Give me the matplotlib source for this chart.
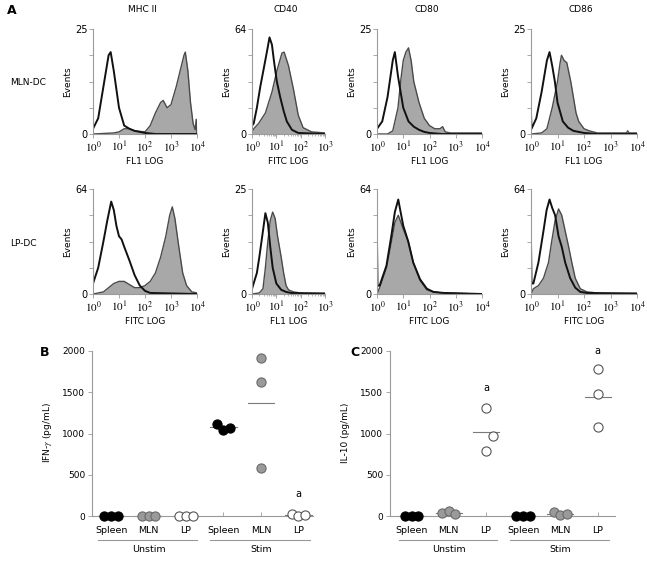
import numpy as np
import matplotlib.pyplot as plt
from matplotlib.ticker import FixedLocator, LogLocator, NullFormatter

plt.rcParams['mathtext.fontset'] = 'stix'
plt.rcParams['font.family'] = 'DejaVu Sans'

# ---- panel A: flow histograms, (log10 intensity, fraction of full scale) ----
mhc_mln_ctrl = [(0, .05), (0.2, .15), (0.4, .45), (0.6, .75), (0.68, .78), (0.8, .6), (1.0, .25),
                (1.2, .08), (1.4, .05), (1.6, .03), (1.8, .02), (2.0, .01), (2.4, 0), (4.0, 0)]
mhc_mln_stain = [(0, 0), (0.8, .01), (1.0, .02), (1.2, .05), (1.4, .05), (1.6, .03), (2.0, .02),
                 (2.2, .08), (2.4, .2), (2.6, .3), (2.7, .32), (2.85, .25), (3.0, .28), (3.2, .45),
                 (3.35, .6), (3.5, .75), (3.55, .78), (3.65, .6), (3.75, .3), (3.85, .1),
                 (3.93, .04), (3.97, .14), (4.0, 0)]
cd40_mln_ctrl = [(0, .08), (0.07, .1), (0.2, .25), (0.34, .45), (0.48, .62), (0.61, .78), (0.72, .92),
                 (0.82, .85), (0.9, .7), (1.02, .5), (1.16, .35), (1.3, .22), (1.43, .12),
                 (1.64, .04), (1.9, .01), (3.0, 0)]
cd40_mln_stain = [(0, .02), (0.07, .05), (0.27, .1), (0.55, .2), (0.82, .4), (1.02, .6), (1.23, .77),
                  (1.32, .78), (1.5, .65), (1.7, .43), (1.9, .18), (2.1, .06), (2.45, .02), (3.0, .01)]
cd80_mln_ctrl = [(0, .05), (0.2, .12), (0.4, .35), (0.6, .7), (0.68, .78), (0.8, .55), (1.0, .25),
                 (1.2, .12), (1.4, .07), (1.6, .04), (1.8, .02), (2.0, .01), (2.5, 0), (4.0, 0)]
cd80_mln_stain = [(0, 0), (0.4, 0), (0.6, .03), (0.8, .25), (0.9, .5), (1.0, .7), (1.1, .78),
                  (1.2, .82), (1.3, .7), (1.4, .5), (1.5, .4), (1.6, .3), (1.8, .15), (2.0, .08),
                  (2.2, .05), (2.4, .05), (2.5, .07), (2.6, .02), (2.8, .01), (4.0, .01)]
cd86_mln_ctrl = [(0, .19), (0.02, .05), (0.2, .15), (0.4, .4), (0.6, .7), (0.7, .78), (0.8, .65),
                 (0.9, .5), (1.0, .3), (1.2, .12), (1.4, .06), (1.6, .03), (1.8, .02), (2.0, .01),
                 (2.5, 0), (4.0, 0)]
cd86_mln_stain = [(0, 0), (0.4, .01), (0.6, .05), (0.8, .25), (1.0, .5), (1.1, .68), (1.15, .75),
                  (1.25, .7), (1.35, .68), (1.5, .5), (1.6, .35), (1.7, .2), (1.8, .12), (2.0, .05),
                  (2.2, .03), (2.5, .01), (3.6, .01), (3.65, .03), (3.7, .01), (4.0, .01)]

mhc_lp_ctrl = [(0, .1), (0.2, .25), (0.4, .5), (0.55, .7), (0.7, .88), (0.8, .8), (0.9, .65),
               (1.0, .55), (1.1, .52), (1.2, .45), (1.4, .32), (1.6, .18), (1.8, .08), (2.0, .03),
               (2.2, .01), (4.0, 0)]
mhc_lp_stain = [(0, 0), (0.4, .02), (0.6, .06), (0.8, .1), (1.0, .12), (1.2, .12), (1.4, .09),
                (1.6, .06), (1.8, .06), (2.0, .08), (2.2, .12), (2.4, .2), (2.6, .35), (2.8, .55),
                (2.95, .75), (3.05, .83), (3.15, .72), (3.3, .45), (3.45, .2), (3.6, .08),
                (3.8, .02), (4.0, .01)]
cd40_lp_ctrl = [(0, .05), (0.2, .2), (0.3, .35), (0.45, .6), (0.55, .77), (0.65, .68), (0.75, .45),
                (0.85, .25), (1.0, .1), (1.2, .04), (1.4, .02), (1.6, .01), (3.0, 0)]
cd40_lp_stain = [(0, 0), (0.3, .01), (0.45, .05), (0.55, .25), (0.65, .5), (0.75, .7), (0.85, .78),
                 (0.95, .72), (1.05, .55), (1.2, .35), (1.3, .2), (1.4, .08), (1.5, .04),
                 (1.7, .02), (2.0, .01), (3.0, .01)]
cd80_lp_ctrl = [(0, .5), (0.02, .08), (0.1, .08), (0.36, .27), (0.55, .56), (0.68, .78), (0.81, .9),
                (0.9, .78), (1.0, .65), (1.19, .5), (1.38, .3), (1.64, .14), (1.9, .05),
                (2.15, .02), (2.54, .01), (4.0, 0)]
cd80_lp_stain = [(0, 0), (0.1, .06), (0.36, .25), (0.55, .5), (0.68, .68), (0.81, .75), (1.0, .62),
                 (1.19, .5), (1.38, .3), (1.64, .13), (1.9, .04), (2.15, .02), (2.5, .01), (4.0, 0)]
cd86_lp_ctrl = [(0, .5), (0.02, .1), (0.09, .1), (0.28, .3), (0.47, .6), (0.59, .8), (0.7, .9),
                (0.8, .82), (0.91, .75), (1.04, .55), (1.16, .45), (1.29, .3), (1.48, .15),
                (1.67, .06), (1.86, .02), (2.11, .01), (4.0, 0)]
cd86_lp_stain = [(0, 0), (0.09, .05), (0.28, .08), (0.47, .15), (0.66, .3), (0.78, .5), (0.91, .7),
                 (1.04, .81), (1.16, .75), (1.29, .6), (1.42, .45), (1.54, .3), (1.67, .15),
                 (1.86, .05), (2.11, .02), (2.5, .01), (4.0, .01)]

markers = ['MHC II', 'CD40', 'CD80', 'CD86']
decades = [4, 3, 4, 4]
ymax_mln = [25, 64, 25, 25]
ymax_lp = [64, 25, 64, 64]
xlab_mln = ['FL1 LOG', 'FITC LOG', 'FL1 LOG', 'FL1 LOG']
xlab_lp = ['FITC LOG', 'FL1 LOG', 'FITC LOG', 'FITC LOG']
curves_mln = [(mhc_mln_ctrl, mhc_mln_stain), (cd40_mln_ctrl, cd40_mln_stain),
              (cd80_mln_ctrl, cd80_mln_stain), (cd86_mln_ctrl, cd86_mln_stain)]
curves_lp = [(mhc_lp_ctrl, mhc_lp_stain), (cd40_lp_ctrl, cd40_lp_stain),
             (cd80_lp_ctrl, cd80_lp_stain), (cd86_lp_ctrl, cd86_lp_stain)]

# ---- panels B and C: cytokines ----
categories = ['Spleen', 'MLN', 'LP', 'Spleen', 'MLN', 'LP']
conditions = ['Unstim', 'Stim']
ifng = [[0, 0, 0], [0, 0, 0], [0, 0, 0],
        [1120, 1040, 1070], [1920, 1620, 580], [30, 0, 10]]
il10 = [[0, 0, 0], [40, 60, 20], [1310, 970, 790],
        [0, 0, 0], [50, 10, 30], [1780, 1480, 1080]]
ifng_sig = [(6, 270)]
il10_sig = [(3, 1550), (6, 2000)]

W, H = 647, 561
fig = plt.figure(figsize=(W / 100, H / 100), dpi=100)
fig.patch.set_facecolor('white')


def add_ax(left, top, right, bottom):
    return fig.add_axes([left / W, 1 - bottom / H, (right - left) / W, (bottom - top) / H])


def ftext(x, y, s, **kw):
    fig.text(x / W, 1 - y / H, s, **kw)


spine_col = '#9a9a9a'
cols = [(93, 197), (252, 325), (377, 482), (531, 637)]
rows = [(29, 134), (189, 294)]


def histo(ax, ctrl, stain, ymax, ndec, xlabel):
    sx = 10 ** np.array([p[0] for p in stain])
    sy = np.array([p[1] for p in stain]) * ymax
    cx = 10 ** np.array([p[0] for p in ctrl])
    cy = np.array([p[1] for p in ctrl]) * ymax
    ax.fill_between(sx, 0, sy, color='#a8a8a8', lw=0)
    ax.plot(sx, sy, color='#4a4a4a', lw=1.0)
    ax.plot(cx, cy, color='#111111', lw=1.4)
    ax.set_xscale('log')
    ax.set_xlim(1, 10 ** ndec)
    ax.set_ylim(0, ymax)
    for s in ['top', 'right']:
        ax.spines[s].set_visible(False)
    for s in ['left', 'bottom']:
        ax.spines[s].set_color(spine_col)
        ax.spines[s].set_linewidth(0.8)
    ax.set_yticks(np.linspace(0, ymax, 5))
    ax.set_yticklabels(['0', '', '', '', str(ymax)])
    ax.xaxis.set_major_locator(FixedLocator([10 ** k for k in range(ndec + 1)]))
    ax.set_xticklabels([r'$10^{%d}$' % k for k in range(ndec + 1)])
    ax.xaxis.set_minor_locator(LogLocator(base=10, subs=np.arange(2, 10)))
    ax.xaxis.set_minor_formatter(NullFormatter())
    ax.tick_params(axis='both', which='major', length=3, width=0.6, color=spine_col,
                   labelsize=7, pad=1)
    ax.tick_params(axis='x', which='major', labelsize=8)
    ax.tick_params(axis='x', which='minor', length=1.5, width=0.5, color=spine_col)
    ax.set_xlabel(xlabel, fontsize=6.5, labelpad=2)
    ax.set_ylabel('Events', fontsize=6.5, labelpad=2)


for i in range(4):
    l, r = cols[i]
    ax = add_ax(l, rows[0][0], r, rows[0][1])
    histo(ax, curves_mln[i][0], curves_mln[i][1], ymax_mln[i], decades[i], xlab_mln[i])
    ftext((l + r) / 2 - 3, 10, markers[i], fontsize=6.5, ha='center', va='center')
    ax = add_ax(l, rows[1][0], r, rows[1][1])
    histo(ax, curves_lp[i][0], curves_lp[i][1], ymax_lp[i], decades[i], xlab_lp[i])

ftext(7, 10, 'A', fontsize=9, fontweight='bold', ha='left', va='center')
ftext(10, 82, 'MLN-DC', fontsize=6.5, ha='left', va='center')
ftext(10, 243, 'LP-DC', fontsize=6.5, ha='left', va='center')

face = ['black', '#9a9a9a', 'white'] * 2
edge = ['black', '#6a6a6a', '#555555'] * 2


def dots(ax, values, sig, xlim):
    pos = np.arange(1, 7)
    for i, vals in enumerate(values):
        vals = np.array(vals)
        if vals.max() - vals.min() > 150:
            jit = [0, 0.19 if abs(vals[1] - vals[2]) < 250 and abs(vals[1] - vals[0]) < 400 else 0, 0]
        else:
            jit = [-0.18, 0, 0.18]
        ax.plot([pos[i] - 0.35, pos[i] + 0.35], [vals.mean()] * 2, color='#7a7a7a', lw=0.8,
                zorder=2, clip_on=False)
        ax.plot(pos[i] + np.array(jit), vals, 'o', ms=6.6, mfc=face[i], mec=edge[i], mew=0.8,
                zorder=3, clip_on=False)
    for x, y in sig:
        ax.text(x, y, 'a', fontsize=7, ha='center', va='center')
    ax.set_xlim(*xlim)
    ax.set_ylim(0, 2000)
    for s in ['top', 'right']:
        ax.spines[s].set_visible(False)
    for s in ['left', 'bottom']:
        ax.spines[s].set_color(spine_col)
        ax.spines[s].set_linewidth(0.8)
    ax.set_yticks([0, 500, 1000, 1500, 2000])
    ax.tick_params(axis='y', length=3, width=0.6, color=spine_col, labelsize=6.5, pad=2)
    ax.set_xticks(pos)
    ax.set_xticklabels([])
    ax.tick_params(axis='x', direction='in', length=3, width=0.6, color=spine_col)
    tr = ax.get_xaxis_transform()
    for p, c in zip(pos, categories):
        ax.text(p, -0.09, c, transform=tr, fontsize=6.8, ha='center', va='center')
    for k, cond in enumerate(conditions):
        c = 2 + 3 * k
        ax.plot([c - 1.35, c + 1.3], [-0.145, -0.145], transform=tr, color='#999999',
                lw=0.8, clip_on=False)
        ax.text(c, -0.2, cond, transform=tr, fontsize=6.8, ha='center', va='center')


axb = add_ax(92, 351, 313, 516)
dots(axb, ifng, ifng_sig, (0.49, 6.39))
ftext(48, 433, r'IFN-$\gamma$ (pg/mL)', fontsize=6.5, rotation=90, ha='center', va='center')
ftext(45, 352, 'B', fontsize=9, fontweight='bold', ha='center', va='center')

axc = add_ax(390, 351, 615, 516)
dots(axc, il10, il10_sig, (0.42, 6.47))
ftext(345, 433, 'IL-10 (pg/mL)', fontsize=6.5, rotation=90, ha='center', va='center')
ftext(355, 352, 'C', fontsize=9, fontweight='bold', ha='center', va='center')

fig.savefig('out.png', dpi=100)
